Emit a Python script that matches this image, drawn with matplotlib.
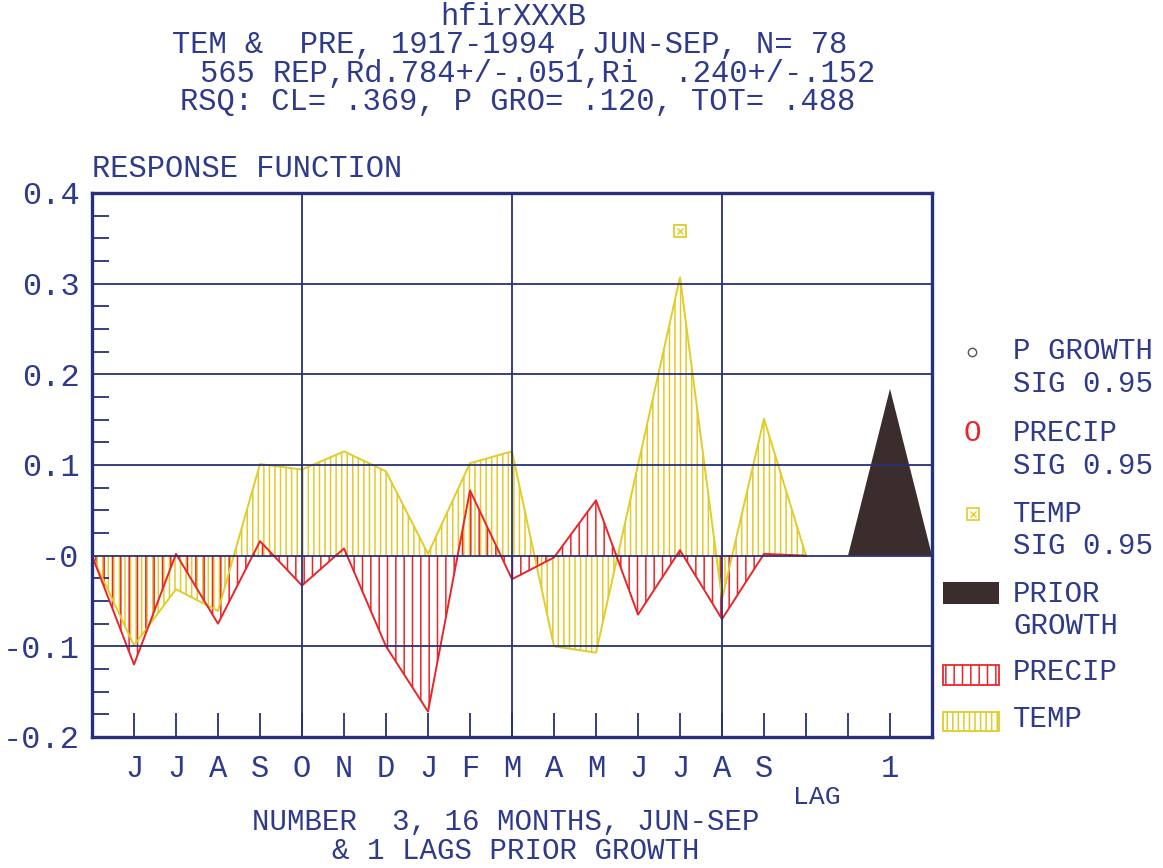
import numpy as np
import matplotlib
matplotlib.use('Agg')
import matplotlib.pyplot as plt
from matplotlib.patches import Rectangle

# response function values, months J J A S O N D J F M A M J J A S
month_labels = ['J', 'J', 'A', 'S', 'O', 'N', 'D', 'J', 'F', 'M', 'A', 'M', 'J', 'J', 'A', 'S']
temp = [-0.099, -0.037, -0.061, 0.101, 0.095, 0.115, 0.093, 0.002,
        0.102, 0.115, -0.100, -0.107, 0.100, 0.307, -0.048, 0.151]
precip = [-0.120, 0.002, -0.075, 0.016, -0.033, 0.008, -0.100, -0.172,
          0.072, -0.026, -0.002, 0.061, -0.065, 0.006, -0.070, 0.002]
prior_growth = [0.184]          # lag 1
lag_labels = ['1']
temp_sig_month = [14]           # J (second)
temp_sig_value = [0.358]

title_lines = ['hfirXXXB',
               'TEM &  PRE, 1917-1994 ,JUN-SEP, N= 78',
               '565 REP,Rd.784+/-.051,Ri  .240+/-.152',
               'RSQ: CL= .369, P GRO= .120, TOT= .488']

NAVY = '#27307a'
TXT = '#2e3a8a'
RED = '#e8262a'
YEL = '#e0cc2a'
DARK = '#3b2c2e'
FONT = 'Liberation Mono'
FS = 22

plt.rcParams['font.family'] = [FONT, 'DejaVu Sans Mono']
plt.rcParams['hatch.linewidth'] = 1.1

W, H = 1163, 868
fig = plt.figure(figsize=(W / 100, H / 100), dpi=100)
ax = fig.add_axes([92 / W, 1 - 737 / H, 840 / W, 544 / H])

n = len(temp)
xm = np.arange(0, n + 2)
t_full = np.concatenate([[0], temp, [0]])
p_full = np.concatenate([[0], precip, [0]])

# temp first, precip on top
ax.fill_between(xm, 0, t_full, facecolor='none', edgecolor=YEL, hatch='|||', linewidth=0)
ax.plot(xm, t_full, color=YEL, lw=1.4)
ax.fill_between(xm, 0, p_full, facecolor='none', edgecolor=RED, hatch='||', linewidth=0)
ax.plot(xm, p_full, color=RED, lw=1.4)

# prior growth triangle
lag_x = np.arange(1, len(prior_growth) + 1) + n + 2
for lx, v in zip(lag_x, prior_growth):
    ax.fill([lx - 1, lx, lx + 1], [0, v, 0], color=DARK, lw=0)

# significant points
ax.plot(temp_sig_month, temp_sig_value, 's', ms=9, mfc='none', mec=YEL, mew=1.3)
ax.plot(temp_sig_month, temp_sig_value, 'x', ms=5, mec=YEL, mew=1.0)

ax.set_xlim(0, n + 4)
ax.set_ylim(-0.2, 0.4)

# grid
for gy in [-0.1, 0, 0.1, 0.2, 0.3]:
    ax.axhline(gy, color=NAVY, lw=1.3, zorder=5)
for gx in [5, 10, 15]:
    ax.axvline(gx, color=NAVY, lw=1.3, zorder=5)

for s in ax.spines.values():
    s.set_color(NAVY)
    s.set_linewidth(2.4)
    s.set_zorder(6)

ax.set_yticks(np.arange(-0.2, 0.41, 0.1))
ax.set_yticklabels(['-0.2', '-0.1', '-0', '0.1', '0.2', '0.3', '0.4'])
ax.set_yticks([v for v in np.arange(-0.2, 0.4, 0.025)
               if abs(round(v / 0.1) * 0.1 - v) > 1e-6], minor=True)
ax.tick_params(axis='y', which='major', length=0, pad=9, labelsize=FS + 1, labelcolor=TXT)
ax.tick_params(axis='y', which='minor', direction='in', length=12, width=1.3, color=NAVY)

xt = list(range(1, n + 4))
xl = month_labels + ['', ''] + lag_labels
ax.set_xticks(xt)
ax.set_xticklabels(xl)
ax.tick_params(axis='x', direction='in', length=17, width=1.3, color=NAVY,
               pad=12, labelsize=FS, labelcolor=TXT)

# overlay for texts and legend in pixel coords
ov = fig.add_axes([0, 0, 1, 1])
ov.set_xlim(0, W)
ov.set_ylim(H, 0)
ov.axis('off')

ov.text(513, 17, title_lines[0], ha='center', va='center', fontsize=FS, color=TXT)
ov.text(172, 45, title_lines[1], ha='left', va='center', fontsize=FS, color=TXT)
ov.text(200, 74, title_lines[2], ha='left', va='center', fontsize=FS, color=TXT)
ov.text(180, 102, title_lines[3], ha='left', va='center', fontsize=FS, color=TXT)
ov.text(92, 169, 'RESPONSE FUNCTION', ha='left', va='center', fontsize=FS, color=TXT)

ov.text(793, 797, 'LAG', ha='left', va='center', fontsize=FS - 3, color=TXT)
ov.text(506, 822, 'NUMBER  3, 16 MONTHS, JUN-SEP', ha='center', va='center', fontsize=FS - 1, color=TXT)
ov.text(516, 851, '& 1 LAGS PRIOR GROWTH', ha='center', va='center', fontsize=FS - 1, color=TXT)

# legend
tx = 1013
LFS = FS - 1
ov.plot(972, 352, 'o', ms=6, mfc='none', mec='#555555', mew=1.0)
ov.text(tx, 351, 'P GROWTH', va='center', fontsize=LFS, color=TXT)
ov.text(tx, 384, 'SIG 0.95', va='center', fontsize=LFS, color=TXT)
ov.text(972, 433, 'O', ha='center', va='center', fontsize=LFS, color=RED)
ov.text(tx, 433, 'PRECIP', va='center', fontsize=LFS, color=TXT)
ov.text(tx, 466, 'SIG 0.95', va='center', fontsize=LFS, color=TXT)
ov.plot(973, 514, 's', ms=8, mfc='none', mec=YEL, mew=1.2)
ov.plot(973, 514, 'x', ms=4, mec=YEL, mew=1.0)
ov.text(tx, 514, 'TEMP', va='center', fontsize=LFS, color=TXT)
ov.text(tx, 546, 'SIG 0.95', va='center', fontsize=LFS, color=TXT)
ov.add_patch(Rectangle((943, 582), 56, 22, facecolor=DARK, edgecolor='none'))
ov.text(tx, 594, 'PRIOR', va='center', fontsize=LFS, color=TXT)
ov.text(tx, 626, 'GROWTH', va='center', fontsize=LFS, color=TXT)
ov.add_patch(Rectangle((943, 665), 56, 20, facecolor='none', edgecolor=RED, hatch='||', lw=1.3))
ov.text(tx, 672, 'PRECIP', va='center', fontsize=LFS, color=TXT)
ov.add_patch(Rectangle((943, 712), 56, 19, facecolor='none', edgecolor=YEL, hatch='|||', lw=1.3))
ov.text(tx, 719, 'TEMP', va='center', fontsize=LFS, color=TXT)

fig.savefig('out.png', dpi=100)
